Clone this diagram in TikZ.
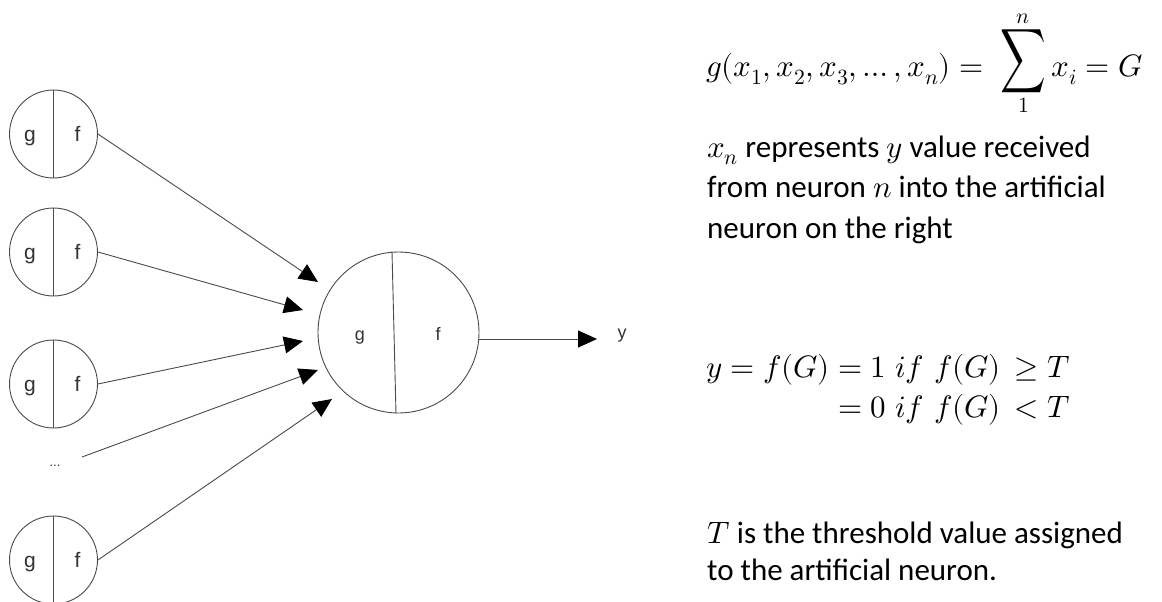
\documentclass[tikz,border=0pt]{standalone}
\usepackage{fontspec}
\usepackage{unicode-math}
\usepackage{graphicx}
\setmainfont{Carlito}
\setmathfont{Latin Modern Math}
\newfontfamily\arialfont{Liberation Sans}
\usetikzlibrary{arrows.meta,calc}
\definecolor{linegray}{HTML}{4A4A4A}
\definecolor{labelgray}{HTML}{333333}
\newcommand{\bigsumsym}{\mathop{\raisebox{8pt}{$\vcenter{\hbox{\scalebox{1.02}[1.45]{$\displaystyle\sum$}}}$}}\limits}
\begin{document}
\begin{tikzpicture}[x=1pt,y=-1pt,
  small/.style={circle,draw=linegray,line width=0.9pt,minimum size=88pt,inner sep=0pt},
  bigneuron/.style={circle,draw=linegray,line width=0.9pt,minimum size=161pt,inner sep=0pt},
  lbl/.style={font=\arialfont\fontsize{21}{23}\selectfont,text=labelgray,inner sep=0pt,anchor=base},
  biglbl/.style={font=\arialfont\fontsize{18}{20}\selectfont,text=labelgray,inner sep=0pt,anchor=base},
  conn/.style={draw=linegray,line width=0.9pt,-{Triangle[length=19pt,width=17pt,color=black]}},
  divider/.style={draw=linegray,line width=0.9pt},
  txt/.style={anchor=base west,inner sep=0pt,font=\fontsize{31}{33}\selectfont}]
\useasboundingbox[fill=white] (0,0) rectangle (1162,602);
% input neurons
\foreach \n/\y in {1/134,2/252,3/384,5/560}{
  \node[small] (n\n) at (53.5,\y) {};
  \draw[divider] (n\n.north) -- (n\n.south);
  \node[lbl] (g\n) at (30,\y+7.5) {g};
  \node[lbl] (f\n) at (77.5,\y+7.5) {f};
}
\node[font=\arialfont\fontsize{13}{14}\selectfont,text=labelgray,inner sep=0pt] (dots) at (55,466) {...};
\coordinate (d4) at (82,457);
% big neuron
\node[bigneuron] (big) at (398.5,332.5) {};
\draw[divider] ([xshift=-6.5pt]big.north) -- ([xshift=-2.5pt]big.south);
\node[biglbl] (bg) at (360,340) {g};
\node[biglbl] (bf) at (438,340) {f};
% arrow tips
\coordinate (t1) at (318,282);
\coordinate (t2) at (303,310);
\coordinate (t3) at (303,341);
\coordinate (t4) at (318,370);
\coordinate (t5) at (332,399);
\draw[conn] (n1.east) -- (t1);
\draw[conn] (n2.east) -- (t2);
\draw[conn] (n3.east) -- (t3);
\draw[conn] (d4) -- (t4);
\draw[conn] (n5.east) -- (t5);
% output
\coordinate (out) at (597,339);
\draw[conn] ([yshift=-6.5pt]big.east) -- (out);
\node[biglbl] (ylab) at (622,338) {y};
% right text
\node[txt] (eq1) at (706,77) {$g(x_1,x_2,x_3,\dots,x_n) =\; \bigsumsym_{1}^{n} x_i = G$};
\node[txt] (l1) at (707,157) {$x_n$ represents $y$ value received};
\node[txt] (l2) at (707,197) {from neuron $n$ into the artificial};
\node[txt] (l3) at (707,238) {neuron on the right};
\node[txt] (eq2a) at (706,377) {$y = f(G)$};
\node[txt] (eq2b) at (838,377) {$= 1\mkern5mu if\mkern6mu f(G)\mkern3mu\geq T$};
\node[txt] (eq3) at ($(eq2b.base west)+(0,40)$) {$= 0\mkern5mu if\mkern6mu f(G)\mkern3mu< T$};
\node[txt] (l4) at (707,543) {$T$ is the threshold value assigned};
\node[txt] (l5) at (707,580) {to the artificial neuron.};
\end{tikzpicture}
\end{document}
